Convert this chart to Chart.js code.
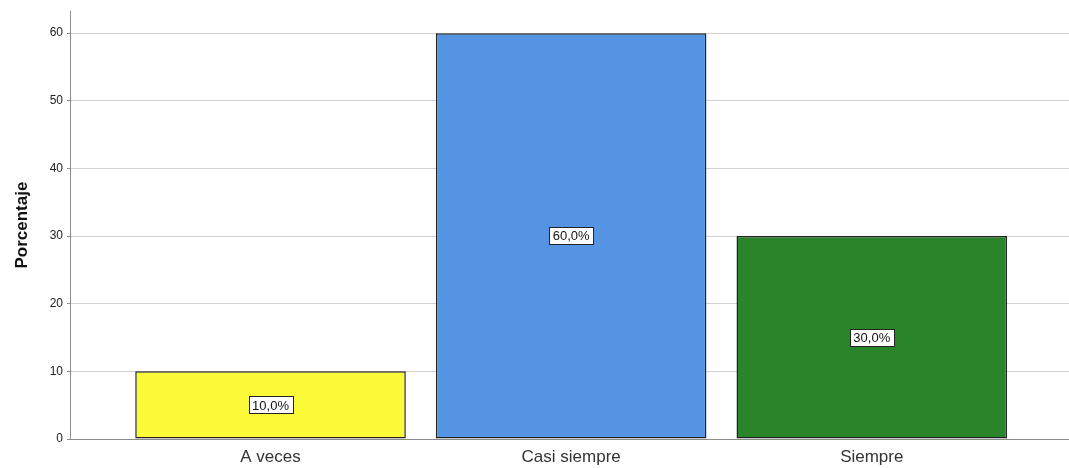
<!DOCTYPE html>
<html>
<head>
<meta charset="utf-8">
<script src="https://cdn.jsdelivr.net/npm/chart.js@4.4.1/dist/chart.umd.min.js"></script>
<style>
  html, body { margin: 0; padding: 0; background: #fff; }
  #wrap { width: 1069px; height: 468px; position: relative; }
</style>
</head>
<body>
<div id="wrap"><canvas id="chart"></canvas></div>
<script>
const categories = ['A veces', 'Casi siempre', 'Siempre'];
const percentages = [10, 60, 30];
const barColors = ['#fbfb3a', '#5594e3', '#2a8429'];
const yTicks = [0, 10, 20, 30, 40, 50, 60];

// white boxed percentage label in the middle of each bar
const barLabels = {
  id: 'barLabels',
  afterDatasetsDraw(chart) {
    const ctx = chart.ctx;
    const meta = chart.getDatasetMeta(0);
    ctx.save();
    ctx.font = '13px "Liberation Sans", Arial, sans-serif';
    ctx.textAlign = 'center';
    ctx.textBaseline = 'middle';
    meta.data.forEach((bar, i) => {
      const txt = percentages[i].toFixed(1).replace('.', ',') + '%';
      const cx = bar.x;
      const cy = (bar.y + bar.base) / 2;
      const w = Math.round(ctx.measureText(txt).width + 7);
      const h = 17;
      const bx = Math.round(cx - w / 2) + 0.5;
      const by = Math.round(cy - h / 2) + 0.5;
      ctx.fillStyle = '#fff';
      ctx.fillRect(bx, by, w, h);
      ctx.strokeStyle = '#222';
      ctx.lineWidth = 1;
      ctx.strokeRect(bx, by, w, h);
      ctx.fillStyle = '#111';
      ctx.fillText(txt, cx, cy + 1);
    });
    ctx.restore();
  }
};

new Chart(document.getElementById('chart'), {
  type: 'bar',
  data: {
    datasets: [{
      data: categories.map((c, i) => ({ x: i, y: percentages[i] })),
      backgroundColor: barColors,
      borderColor: '#222',
      borderWidth: 1.5,
      borderSkipped: false,
      categoryPercentage: 1,
      barPercentage: 0.9
    }]
  },
  options: {
    responsive: true,
    maintainAspectRatio: false,
    animation: false,
    layout: { padding: { top: 10, right: 0, left: 0, bottom: 0 } },
    plugins: { legend: { display: false }, tooltip: { enabled: false } },
    scales: {
      x: {
        type: 'linear',
        offset: false,
        min: -0.667,
        max: 2.656,
        afterBuildTicks(scale) {
          scale.ticks = categories.map((c, i) => ({ value: i }));
        },
        afterFit(scale) { scale.height = 29; },
        grid: { display: false, drawTicks: false },
        border: { color: '#8c8c8c', width: 1 },
        ticks: {
          autoSkip: false,
          maxRotation: 0,
          padding: 8,
          color: '#333',
          font: { family: '"Liberation Sans", Arial, sans-serif', size: 17 },
          callback: v => categories[v]
        }
      },
      y: {
        min: 0,
        max: 63.25,
        afterBuildTicks(scale) {
          scale.ticks = yTicks.map(v => ({ value: v }));
        },
        afterFit(scale) { scale.width = 70; },
        grid: { color: '#d2d2d2', tickLength: 3, tickColor: '#8c8c8c' },
        border: { color: '#8c8c8c', width: 1 },
        ticks: {
          padding: 4,
          color: '#222',
          font: { family: '"Liberation Sans", Arial, sans-serif', size: 12 }
        },
        title: {
          display: true,
          text: 'Porcentaje',
          color: '#111',
          padding: { top: 12, bottom: 0 },
          font: { family: '"Liberation Sans", Arial, sans-serif', size: 17, weight: 'bold' }
        }
      }
    }
  },
  plugins: [barLabels]
});
</script>
</body>
</html>
